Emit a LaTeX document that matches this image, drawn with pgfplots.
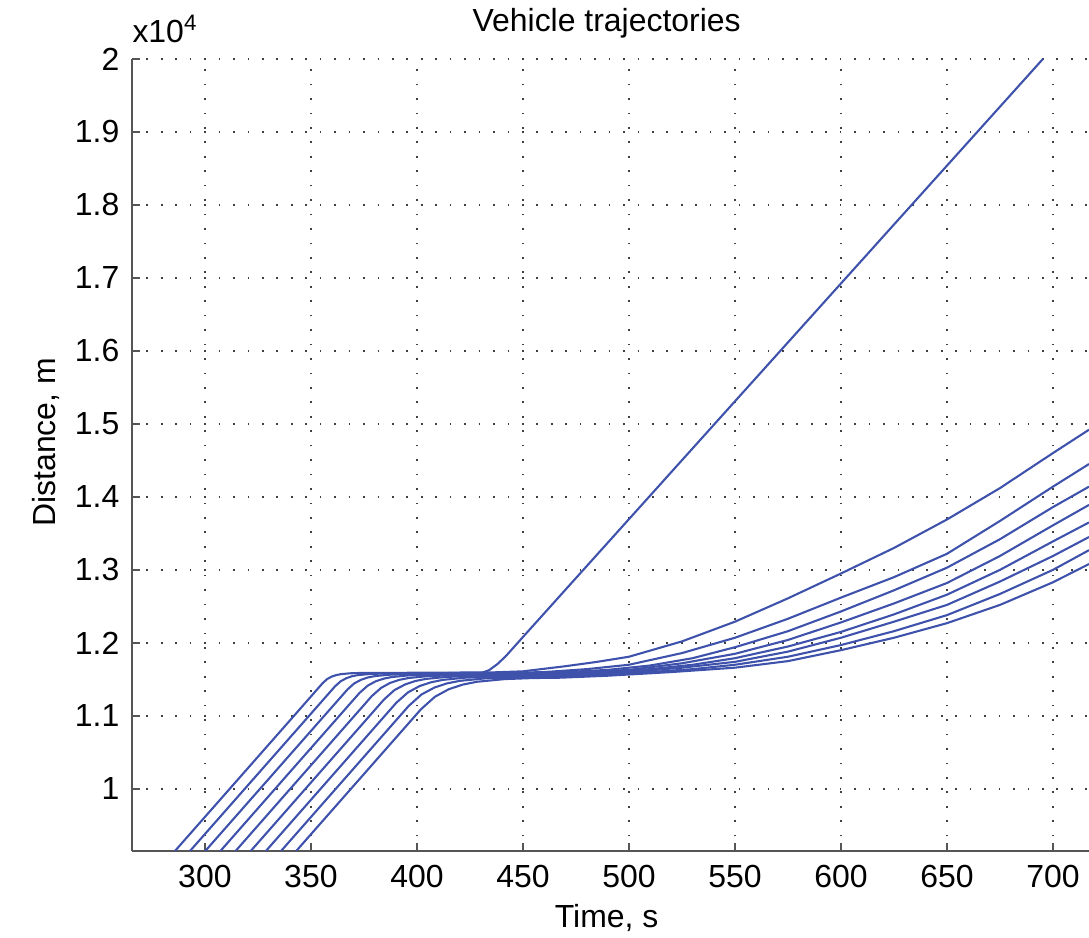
\documentclass[border=0pt]{standalone}
\usepackage{pgfplots}
\pgfplotsset{compat=1.18}
\usepackage{fontspec}
\setmainfont{Liberation Sans}
\definecolor{trajblue}{RGB}{62,82,172}
\definecolor{axgray}{RGB}{85,85,85}

\begin{document}
\begin{tikzpicture}
\begin{axis}[
    name=ax,
    scale only axis,
    width=344.5pt, height=285.1pt,
    xmin=265.6, xmax=717,
    ymin=9150, ymax=20000,
    axis x line*=bottom, axis y line*=left,
    axis line style={-, axgray, line width=0.7pt},
    tick style={axgray, line width=0.6pt},
    major tick length=3pt,
    tick align=inside,
    scaled y ticks=false, scaled x ticks=false,
    xtick={300,350,...,700},
    xticklabels={300,350,400,450,500,550,600,650,700},
    ytick={10000,11000,...,20000},
    yticklabels={1,1.1,1.2,1.3,1.4,1.5,1.6,1.7,1.8,1.9,2},
    ticklabel style={font=\fontsize{11.5}{13}\selectfont},
    xticklabel style={yshift=-1.5pt},
    yticklabel style={xshift=-1pt},
    grid=major,
    grid style={black!75, line width=0.6pt, dash pattern=on 0.6pt off 4.6pt},
    traj/.style={trajblue, line width=0.75pt, mark=none},
]
% lead vehicle
\addplot[traj] coordinates {(284.4,9100) (341.1,10970) (355.6,11450) (357.7,11505) (359.8,11538) (362.0,11559) (364.1,11571) (368.3,11583) (372.6,11587) (431,11595) (434,11625) (438,11710) (442,11820) (450,12080) (695.3,20000)};
% followers
\addplot[traj] coordinates {(291.5,9100) (361.4,11405) (364.1,11475) (366.8,11517) (369.4,11543) (372.1,11558) (377.5,11573) (382.8,11579) (388.2,11581) (430,11590) (450,11610) (470,11680) (485,11740) (500,11810) (525,12020) (550,12290) (575,12610) (600,12950) (625,13300) (650,13690) (675,14120) (700,14600) (717,14920)};
\addplot[traj] coordinates {(298.7,9100) (367.2,11360) (370.4,11444) (373.7,11495) (376.9,11526) (380.2,11545) (386.6,11563) (393.1,11570) (399.6,11573) (430,11580) (460,11600) (480,11640) (500,11700) (525,11860) (550,12070) (575,12330) (600,12620) (625,12900) (650,13220) (675,13670) (700,14140) (717,14450)};
\addplot[traj] coordinates {(305.85,9100) (372.95,11315) (376.8,11414) (380.6,11474) (384.4,11510) (388.2,11532) (395.8,11554) (403.4,11561) (411.0,11564) (440,11575) (470,11600) (490,11630) (510,11690) (530,11790) (550,11940) (575,12160) (600,12430) (625,12720) (650,13030) (675,13420) (700,13860) (717,14140)};
\addplot[traj] coordinates {(313,9100) (378.7,11270) (383.1,11383) (387.4,11452) (391.8,11494) (396.2,11519) (404.9,11544) (413.6,11553) (422.4,11556) (450,11570) (480,11600) (500,11630) (525,11720) (550,11850) (575,12040) (600,12280) (625,12540) (650,12820) (675,13190) (700,13610) (717,13890)};
\addplot[traj] coordinates {(320.15,9100) (384.5,11225) (389.4,11353) (394.4,11430) (399.3,11478) (404.2,11506) (414.1,11534) (423.9,11544) (433.8,11548) (460,11565) (490,11600) (510,11640) (530,11700) (550,11790) (575,11950) (600,12150) (625,12390) (650,12660) (675,13000) (700,13390) (717,13650)};
\addplot[traj] coordinates {(327.3,9100) (390.3,11180) (395.8,11322) (401.3,11409) (406.8,11461) (412.2,11493) (423.2,11524) (434.2,11535) (445.2,11540) (470,11560) (500,11600) (525,11660) (550,11740) (575,11880) (600,12070) (625,12290) (650,12520) (675,12840) (700,13190) (717,13450)};
\addplot[traj] coordinates {(334.45,9100) (396.1,11135) (402.1,11292) (408.2,11387) (414.2,11445) (420.3,11480) (432.4,11514) (444.5,11527) (456.6,11531) (480,11555) (510,11600) (530,11640) (550,11700) (575,11810) (600,11970) (625,12160) (650,12380) (675,12670) (700,13000) (717,13270)};
\addplot[traj] coordinates {(341.6,9100) (401.9,11090) (408.5,11262) (415.1,11366) (421.7,11429) (428.3,11467) (441.5,11504) (454.7,11518) (467.9,11523) (490,11550) (520,11600) (550,11660) (575,11750) (600,11900) (625,12070) (650,12270) (675,12520) (700,12830) (717,13080)};
\end{axis}
\node[anchor=base, font=\fontsize{11.5}{13}\selectfont] at ([xshift=0.496*344.5pt, yshift=9.7pt]ax.north west) {Vehicle trajectories};
\node[anchor=base west, font=\fontsize{11.5}{13}\selectfont, inner sep=0pt] at ([yshift=6pt]ax.north west) {x10\textsuperscript{4}};
\node[anchor=base, font=\fontsize{11.5}{13}\selectfont] at ([xshift=0.496*344.5pt, yshift=-27.7pt]ax.south west) {Time, s};
\node[anchor=base, rotate=90, font=\fontsize{11.5}{13}\selectfont] at ([xshift=-27.7pt, yshift=0.516*285.1pt]ax.south west) {Distance, m};
\pgfresetboundingbox
\useasboundingbox ([xshift=-47.5pt, yshift=-31.3pt]ax.south west) rectangle ([yshift=21.2pt]ax.north east);
\end{tikzpicture}
\end{document}
